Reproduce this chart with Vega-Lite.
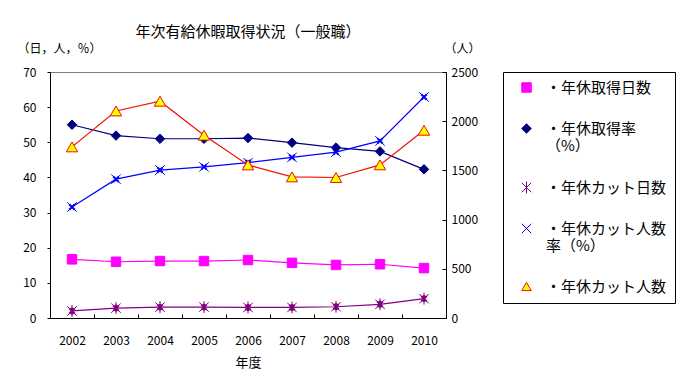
{
  "$schema": "https://vega.github.io/schema/vega-lite/v6.json",
  "width": 396,
  "height": 246,
  "autosize": "none",
  "padding": {"left": 50, "top": 72, "right": 243, "bottom": 74},
  "background": "white",
  "config": {
    "font": "Noto Sans CJK JP",
    "view": {"stroke": "#808080", "strokeWidth": 1},
    "axis": {
      "domainColor": "black", "tickColor": "black", "labelColor": "black", "titleColor": "black",
      "grid": false, "labelFont": "Noto Sans CJK JP", "titleFont": "Noto Sans CJK JP",
      "titleFontWeight": "normal", "labelFontSize": 12, "titleFontSize": 12
    },
    "legend": {
      "orient": "none", "legendX": 453, "legendY": 0,
      "strokeColor": "black", "padding": 8, "symbolSize": 90, "symbolStrokeWidth": 1,
      "symbolOffset": 8,
      "labelFont": "Noto Sans CJK JP", "labelColor": "black",
      "labelFontSize": 15, "labelOffset": 12, "labelLimit": 0, "rowPadding": 25
    }
  },
  "title": {
    "text": "年次有給休暇取得状況（一般職）",
    "fontSize": 15, "fontWeight": "normal", "color": "black",
    "font": "Noto Sans CJK JP", "anchor": "middle", "offset": 2
  },
  "datasets": {
    "left": [
      {"year": "2002", "series": "年休取得日数", "value": 16.7},
      {"year": "2003", "series": "年休取得日数", "value": 16.0},
      {"year": "2004", "series": "年休取得日数", "value": 16.2},
      {"year": "2005", "series": "年休取得日数", "value": 16.2},
      {"year": "2006", "series": "年休取得日数", "value": 16.5},
      {"year": "2007", "series": "年休取得日数", "value": 15.7},
      {"year": "2008", "series": "年休取得日数", "value": 15.1},
      {"year": "2009", "series": "年休取得日数", "value": 15.3},
      {"year": "2010", "series": "年休取得日数", "value": 14.2},
      {"year": "2002", "series": "年休取得率（%）", "value": 55.0},
      {"year": "2003", "series": "年休取得率（%）", "value": 51.9},
      {"year": "2004", "series": "年休取得率（%）", "value": 51.0},
      {"year": "2005", "series": "年休取得率（%）", "value": 51.0},
      {"year": "2006", "series": "年休取得率（%）", "value": 51.2},
      {"year": "2007", "series": "年休取得率（%）", "value": 49.9},
      {"year": "2008", "series": "年休取得率（%）", "value": 48.5},
      {"year": "2009", "series": "年休取得率（%）", "value": 47.4},
      {"year": "2010", "series": "年休取得率（%）", "value": 42.3},
      {"year": "2002", "series": "年休カット日数", "value": 2.0},
      {"year": "2003", "series": "年休カット日数", "value": 2.8},
      {"year": "2004", "series": "年休カット日数", "value": 3.1},
      {"year": "2005", "series": "年休カット日数", "value": 3.1},
      {"year": "2006", "series": "年休カット日数", "value": 3.0},
      {"year": "2007", "series": "年休カット日数", "value": 3.0},
      {"year": "2008", "series": "年休カット日数", "value": 3.2},
      {"year": "2009", "series": "年休カット日数", "value": 3.9},
      {"year": "2010", "series": "年休カット日数", "value": 5.5},
      {"year": "2002", "series": "年休カット人数率（%）", "value": 31.6},
      {"year": "2003", "series": "年休カット人数率（%）", "value": 39.5},
      {"year": "2004", "series": "年休カット人数率（%）", "value": 42.1},
      {"year": "2005", "series": "年休カット人数率（%）", "value": 43.0},
      {"year": "2006", "series": "年休カット人数率（%）", "value": 44.2},
      {"year": "2007", "series": "年休カット人数率（%）", "value": 45.7},
      {"year": "2008", "series": "年休カット人数率（%）", "value": 47.2},
      {"year": "2009", "series": "年休カット人数率（%）", "value": 50.4},
      {"year": "2010", "series": "年休カット人数率（%）", "value": 62.9}
    ],
    "right": [
      {"year": "2002", "series": "年休カット人数", "value": 1739},
      {"year": "2003", "series": "年休カット人数", "value": 2104},
      {"year": "2004", "series": "年休カット人数", "value": 2203},
      {"year": "2005", "series": "年休カット人数", "value": 1858},
      {"year": "2006", "series": "年休カット人数", "value": 1556},
      {"year": "2007", "series": "年休カット人数", "value": 1434},
      {"year": "2008", "series": "年休カット人数", "value": 1428},
      {"year": "2009", "series": "年休カット人数", "value": 1556},
      {"year": "2010", "series": "年休カット人数", "value": 1908}
    ]
  },
  "encoding": {
    "x": {
      "field": "year", "type": "ordinal",
      "scale": {"type": "band", "paddingInner": 0, "paddingOuter": 0},
      "axis": {"title": "年度", "labelAngle": 0, "tickSize": -4, "tickBand": "extent", "labelPadding": 21, "titleFontSize": 13, "titlePadding": 10, "labelFontSize": 12}
    },
    "shape": {
      "field": "series", "type": "nominal",
      "scale": {"domain": ["年休取得日数", "年休取得率（%）", "年休カット日数", "年休カット人数率（%）", "年休カット人数"], "range": ["square", "diamond", "M-1,-1L1,1M-1,1L1,-1M0,-1.25V1.25", "M-1,-1L1,1M-1,1L1,-1", "triangle-up"]},
      "legend": {
        "title": null,
        "labelExpr": "datum.label == '年休取得率（%）' ? ['・年休取得率', '（%）'] : datum.label == '年休カット人数率（%）' ? ['・年休カット人数', '率（%）'] : '・' + datum.label"
      }
    },
    "fill": {
      "field": "series", "type": "nominal",
      "scale": {"domain": ["年休取得日数", "年休取得率（%）", "年休カット日数", "年休カット人数率（%）", "年休カット人数"], "range": ["#FF00FF", "#000080", "transparent", "transparent", "#FFFF00"]},
      "legend": {
        "title": null,
        "labelExpr": "datum.label == '年休取得率（%）' ? ['・年休取得率', '（%）'] : datum.label == '年休カット人数率（%）' ? ['・年休カット人数', '率（%）'] : '・' + datum.label"
      }
    },
    "stroke": {
      "field": "series", "type": "nominal",
      "scale": {"domain": ["年休取得日数", "年休取得率（%）", "年休カット日数", "年休カット人数率（%）", "年休カット人数"], "range": ["#FF00FF", "#000080", "#800080", "#0000FF", "#F01000"]},
      "legend": {
        "title": null,
        "labelExpr": "datum.label == '年休取得率（%）' ? ['・年休取得率', '（%）'] : datum.label == '年休カット人数率（%）' ? ['・年休カット人数', '率（%）'] : '・' + datum.label"
      }
    }
  },
  "layer": [
    {
      "data": {"name": "left"},
      "encoding": {
        "y": {
          "field": "value", "type": "quantitative",
          "scale": {"domain": [0, 70], "nice": false, "zero": true},
          "axis": {"values": [0, 10, 20, 30, 40, 50, 60, 70], "tickSize": 3, "labelPadding": 11, "title": "（日，人，％）", "titleAngle": 0, "titleAlign": "center", "titleBaseline": "middle", "titleX": 9, "titleY": -24}
        }
      },
      "layer": [
        {"mark": {"type": "line", "strokeWidth": 1.2}, "encoding": {"fill": {"value": "transparent"}}},
        {"mark": {"type": "point", "filled": true, "opacity": 1, "strokeWidth": 1, "size": 90}}
      ]
    },
    {
      "data": {"name": "right"},
      "encoding": {
        "y": {
          "field": "value", "type": "quantitative",
          "scale": {"domain": [0, 2500], "nice": false},
          "axis": {"orient": "right", "values": [0, 500, 1000, 1500, 2000, 2500], "format": "d", "tickSize": -4, "labelPadding": 9, "title": "（人）", "titleAngle": 0, "titleAlign": "center", "titleBaseline": "middle", "titleX": 16, "titleY": -24}
        }
      },
      "layer": [
        {"mark": {"type": "line", "strokeWidth": 1.2}, "encoding": {"fill": {"value": "transparent"}}},
        {"mark": {"type": "point", "filled": true, "opacity": 1, "strokeWidth": 1, "size": 130}}
      ]
    }
  ],
  "resolve": {"scale": {"y": "independent"}}
}
